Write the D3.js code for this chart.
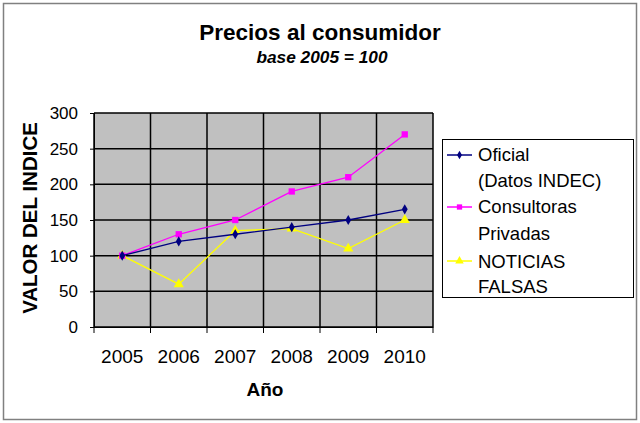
<!DOCTYPE html>
<html><head><meta charset="utf-8">
<script src="https://cdn.jsdelivr.net/npm/d3@7"></script>
<style>body{margin:0;background:#fff}svg{display:block;font-family:Arial,"Liberation Sans",sans-serif}</style>
</head><body>
<svg id="c" width="640" height="423"></svg>
<script>
const years = ["2005","2006","2007","2008","2009","2010"];
const oficial = [100, 120, 130, 140, 150, 165];
const consultoras = [100, 130, 150, 190, 210, 270];
const noticias = [100, 60, 135, 138, 110, 150];
const yTicks = [0, 50, 100, 150, 200, 250, 300];
const seriesNames = [["Oficial", "(Datos INDEC)"], ["Consultoras", "Privadas"], ["NOTICIAS", "FALSAS"]];

const svg = d3.select("#c");
svg.append("rect").attr("x",3.5).attr("y",3.5).attr("width",633).attr("height",416)
  .attr("fill","#fff").attr("stroke","#808080").attr("stroke-width",1.5);

const L=94, R=433, T=113, B=327;
const x = d3.scaleBand().domain(years).range([L,R]).padding(0);
const y = d3.scaleLinear().domain([0,300]).range([B,T]);

svg.append("rect").attr("x",L).attr("y",T).attr("width",R-L).attr("height",B-T).attr("fill","#c0c0c0");

// grid
svg.append("g").selectAll("line").data(yTicks).join("line")
  .attr("x1",L).attr("x2",R).attr("y1",d=>y(d)).attr("y2",d=>y(d)).attr("stroke","#000").attr("stroke-width",1.5);
const bounds = years.map(d=>x(d)).concat([R]);
svg.append("g").selectAll("line").data(bounds).join("line")
  .attr("x1",d=>d).attr("x2",d=>d).attr("y1",T).attr("y2",B).attr("stroke","#000").attr("stroke-width",1.5);

// axes
const ya = d3.axisLeft(y).tickValues(yTicks).tickSize(4).tickPadding(12);
const yg = svg.append("g").attr("transform",`translate(${L},0)`).call(ya);
yg.select(".domain").attr("stroke","#000");
yg.selectAll("text").attr("font-size",17).attr("fill","#000");

const xa = d3.axisBottom(x).tickSize(0).tickPadding(0);
const xg = svg.append("g").attr("transform",`translate(0,${B})`).call(xa);
xg.select(".domain").attr("stroke","#000");
xg.selectAll("text").attr("font-size",19).attr("fill","#000").attr("dy",null).attr("y",36);
xg.selectAll(".bt").data(bounds).join("line").attr("x1",d=>d).attr("x2",d=>d).attr("y1",0).attr("y2",6).attr("stroke","#000");

const cx = d=>x(d)+x.bandwidth()/2;
const series = [
  {vals:oficial, color:"#000080", sym:d3.symbolDiamond, size:30},
  {vals:consultoras, color:"#ff00ff", sym:d3.symbolSquare, size:40},
  {vals:noticias, color:"#ffff00", sym:d3.symbolTriangle, size:45}
];
const line = d3.line().x((d,i)=>cx(years[i])).y(d=>y(d));
series.slice().reverse().forEach(s=>{
  svg.append("path").attr("d",line(s.vals)).attr("fill","none").attr("stroke",s.color).attr("stroke-width",1.3);
  svg.append("g").selectAll("path").data(s.vals).join("path")
    .attr("transform",(d,i)=>`translate(${cx(years[i])},${y(d)})`)
    .attr("d",d3.symbol().type(s.sym).size(s.size)).attr("fill",s.color);
});

// titles
svg.append("text").attr("x",320).attr("y",40).attr("text-anchor","middle").attr("font-size",22.5).attr("font-weight","bold").text("Precios al consumidor");
svg.append("text").attr("x",322).attr("y",63).attr("text-anchor","middle").attr("font-size",17.3).attr("font-weight","bold").attr("font-style","italic").text("base 2005 = 100");
svg.append("text").attr("transform","translate(37,218) rotate(-90)").attr("text-anchor","middle").attr("font-size",20.5).attr("font-weight","bold").text("VALOR DEL INDICE");
svg.append("text").attr("x",265).attr("y",396).attr("text-anchor","middle").attr("font-size",19).attr("font-weight","bold").text("Año");

// legend
const lg = svg.append("g");
lg.append("rect").attr("x",442.5).attr("y",139.5).attr("width",191).attr("height",158).attr("fill","#fff").attr("stroke","#000");
const rowY = [155, 207, 261];
const textY = [[161, 187], [213, 240], [268, 293]];
series.forEach((s,i)=>{
  const yy = rowY[i];
  lg.append("line").attr("x1",447).attr("x2",472).attr("y1",yy).attr("y2",yy).attr("stroke",s.color).attr("stroke-width",1.5);
  lg.append("path").attr("transform",`translate(459.5,${yy})`).attr("d",d3.symbol().type(s.sym).size(s.size*0.7)).attr("fill",s.color);
  seriesNames[i].forEach((t,j)=>{
    lg.append("text").attr("x",478).attr("y",textY[i][j]).attr("font-size",18.5).attr("fill","#000").text(t);
  });
});
</script>
</body></html>
